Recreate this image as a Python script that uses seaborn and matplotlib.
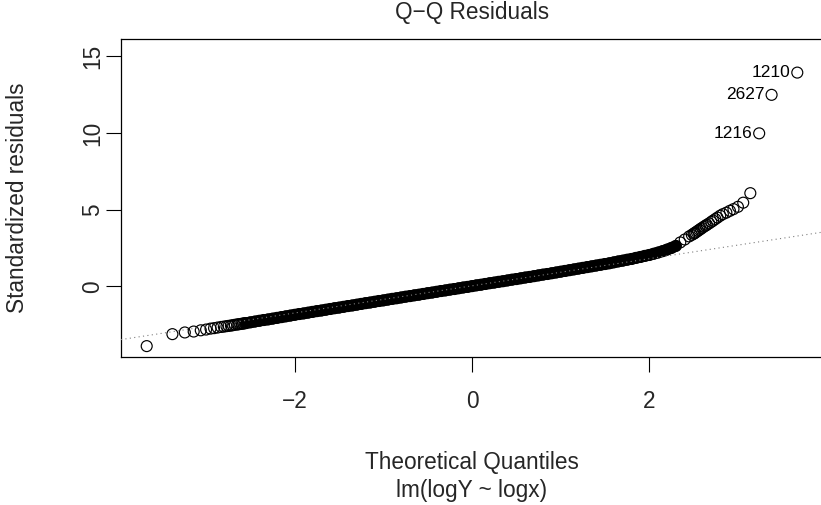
import matplotlib
matplotlib.use("Agg")
import matplotlib.pyplot as plt
import seaborn as sns
import numpy as np

# ---- data ----
theo_q = [
    -3.67, -3.38, -3.24, -3.14, -3.06, -3.00, -2.95, -2.91, -2.87, -2.83,
    -2.80, -2.77, -2.745, -2.72, -2.70, -2.675, -2.65, -2.635, -2.615, -2.595,
    -2.58, -2.565, -2.55,
    -2.50, -2.45, -2.40, -2.35, -2.30, -2.25, -2.20, -2.15, -2.10, -2.05,
    -2.00, -1.95, -1.90, -1.85, -1.80, -1.75, -1.70, -1.65, -1.60, -1.55,
    -1.50, -1.45, -1.40, -1.35, -1.30, -1.25, -1.20, -1.15, -1.10, -1.05,
    -1.00, -0.95, -0.90, -0.85, -0.80, -0.75, -0.70, -0.65, -0.60, -0.55,
    -0.50, -0.45, -0.40, -0.35, -0.30, -0.25, -0.20, -0.15, -0.10, -0.05,
    0.00, 0.05, 0.10, 0.15, 0.20, 0.25, 0.30, 0.35, 0.40, 0.45,
    0.50, 0.55, 0.60, 0.65, 0.70, 0.75, 0.80, 0.85, 0.90, 0.95,
    1.00, 1.05, 1.10, 1.15, 1.20, 1.25, 1.30, 1.35, 1.40, 1.45,
    1.50, 1.55, 1.60, 1.65, 1.70, 1.75, 1.80, 1.85, 1.90, 1.95,
    2.00, 2.05, 2.10, 2.15, 2.20, 2.25, 2.30, 2.35, 2.40, 2.45,
    2.48, 2.50, 2.51, 2.52, 2.535, 2.55, 2.565, 2.58, 2.595, 2.615,
    2.635, 2.65, 2.675, 2.70, 2.72, 2.745, 2.77, 2.80, 2.83, 2.87,
    2.91, 2.95, 3.00, 3.06, 3.14, 3.24, 3.38, 3.67,
]
std_resid = [
    -3.90, -3.12, -3.01, -2.95, -2.87, -2.82, -2.76, -2.73, -2.69, -2.65,
    -2.63, -2.60, -2.58, -2.56, -2.54, -2.51, -2.49, -2.48, -2.46, -2.44,
    -2.43, -2.41, -2.40,
    -2.35, -2.30, -2.25, -2.20, -2.16, -2.11, -2.06, -2.01, -1.96, -1.91,
    -1.86, -1.81, -1.77, -1.72, -1.67, -1.62, -1.58, -1.53, -1.48, -1.43,
    -1.39, -1.34, -1.29, -1.25, -1.20, -1.15, -1.10, -1.06, -1.01, -0.96,
    -0.92, -0.87, -0.82, -0.78, -0.73, -0.68, -0.64, -0.59, -0.55, -0.50,
    -0.45, -0.41, -0.36, -0.31, -0.27, -0.22, -0.18, -0.13, -0.08, -0.04,
    0.01, 0.06, 0.10, 0.15, 0.20, 0.24, 0.29, 0.33, 0.38, 0.43,
    0.47, 0.52, 0.57, 0.61, 0.66, 0.71, 0.76, 0.80, 0.85, 0.90,
    0.95, 1.00, 1.05, 1.10, 1.15, 1.20, 1.25, 1.30, 1.35, 1.40,
    1.45, 1.50, 1.56, 1.62, 1.67, 1.73, 1.78, 1.85, 1.91, 1.98,
    2.04, 2.12, 2.20, 2.29, 2.39, 2.50, 2.63, 2.86, 3.05, 3.25,
    3.35, 3.42, 3.46, 3.50, 3.56, 3.62, 3.68, 3.74, 3.80, 3.88,
    3.95, 4.01, 4.10, 4.20, 4.28, 4.38, 4.48, 4.60, 4.70, 4.80,
    4.92, 5.03, 5.18, 5.45, 6.07, 9.97, 12.48, 13.93,
]
label_ids = ["1210", "2627", "1216"]
label_q = [3.67, 3.38, 3.24]
label_r = [13.93, 12.48, 9.97]

line_slope = 0.885      # reference (qqline) slope
line_intercept = 0.03   # reference (qqline) intercept

x_ticks = [-2, 0, 2]
y_ticks = [0, 5, 10, 15]

title = "Q\u2212Q Residuals"
xlabel1 = "Theoretical Quantiles"
xlabel2 = "lm(logY ~ logx)"
ylabel = "Standardized residuals"

# ---- plotting ----
sns.set_style("white")
plt.rcParams["font.family"] = ["Liberation Sans", "DejaVu Sans"]
plt.rcParams["axes.unicode_minus"] = True

FS = 16.3
W, H = 821, 505
fig = plt.figure(figsize=(W / 100, H / 100), dpi=100)
L, R, T, B = 121, 823, 39.3, 357
ax = fig.add_axes([L / W, 1 - B / H, (R - L) / W, (B - T) / H])

q = np.array(theo_q)
r = np.array(std_resid)

# dense central part of the point cloud (thousands of overlapping circles)
dense = (q >= -2.56) & (q <= 2.33)
sns.lineplot(x=q[dense], y=r[dense], ax=ax, color="black", lw=8.3,
             solid_capstyle="round", sort=False, estimator=None, zorder=2)

sns.scatterplot(x=q, y=r, ax=ax, marker="o", s=62, fc="none", ec="black",
                linewidth=0.85, zorder=3, legend=False)

xl = (-3.96, 3.96)
ax.set_xlim(*xl)
ax.set_ylim(-4.61, 16.1)
xs = np.array(xl)
ax.plot(xs, line_slope * xs + line_intercept, color="#7f7f7f", lw=0.8,
        linestyle=(0, (1, 3)), zorder=4)

for lab, xq, yr in zip(label_ids, label_q, label_r):
    ax.annotate(lab, (xq, yr), xytext=(-5, 0), textcoords="offset points",
                ha="right", va="center", fontsize=12.5, color="black")

for s in ax.spines.values():
    s.set_color("black")
    s.set_linewidth(0.9)

ax.set_xticks(x_ticks)
ax.set_xticklabels([f"{v}".replace("-", "\u2212") for v in x_ticks])
ax.set_yticks(y_ticks)
ax.set_yticklabels([str(v) for v in y_ticks], rotation=90, va="center")
ax.tick_params(axis="both", direction="out", length=10.8, width=0.8,
               color="black", labelsize=FS)
ax.tick_params(axis="x", pad=13.0)
ax.tick_params(axis="y", pad=1.5)
ax.xaxis.set_ticks_position("bottom")
ax.yaxis.set_ticks_position("left")
ax.set_xlabel("")
ax.set_ylabel("")

fig.text(472 / W, 1 - 12 / H, title, ha="center", va="center", fontsize=FS)
fig.text(472 / W, 1 - 463 / H, xlabel1, ha="center", va="center", fontsize=FS)
fig.text(472 / W, 1 - 490 / H, xlabel2, ha="center", va="center", fontsize=FS)
fig.text(18 / W, 1 - 198 / H, ylabel, ha="center", va="center", rotation=90,
         fontsize=FS)

fig.savefig("out.png", dpi=100)
